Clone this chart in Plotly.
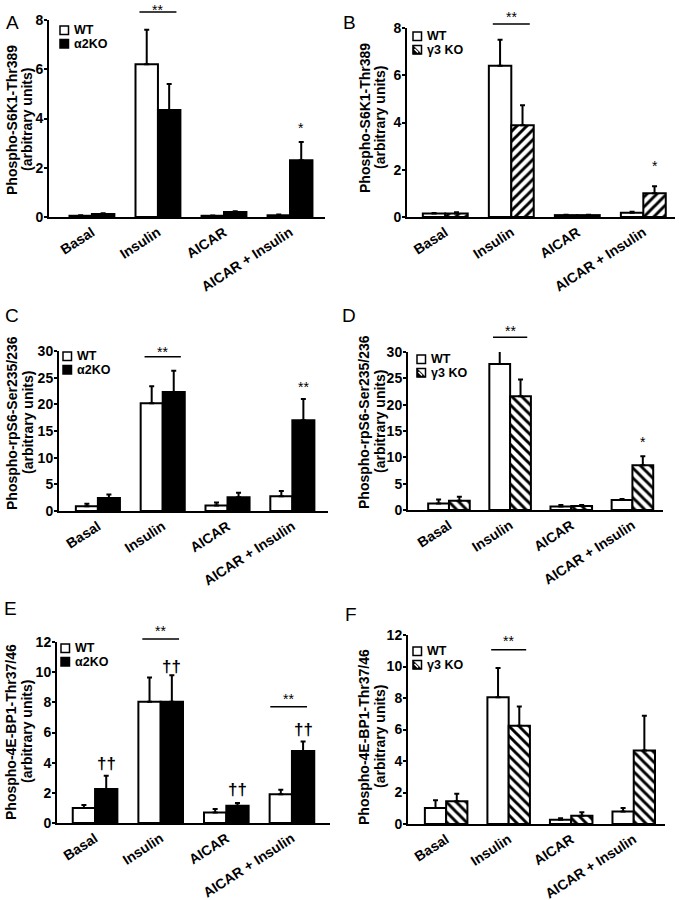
import plotly.graph_objects as go

W, H = 679, 900
FONT = "Liberation Sans, Arial, sans-serif"

categories = ["Basal", "Insulin", "AICAR", "AICAR + Insulin"]

# Panel A: Phospho-S6K1-Thr389, WT vs a2KO
a_wt = [0.05, 6.2, 0.05, 0.07]
a_wt_err = [0.02, 1.4, 0.01, 0.03]
a_ko = [0.12, 4.35, 0.2, 2.3]
a_ko_err = [0.03, 1.05, 0.03, 0.75]

# Panel B: Phospho-S6K1-Thr389, WT vs g3 KO
b_wt = [0.15, 6.4, 0.08, 0.18]
b_wt_err = [0.02, 1.1, 0.02, 0.04]
b_ko = [0.15, 3.88, 0.08, 1.0]
b_ko_err = [0.05, 0.85, 0.02, 0.3]

# Panel C: Phospho-rpS6-Ser235/236, WT vs a2KO
c_wt = [0.9, 20.2, 1.05, 2.75]
c_wt_err = [0.45, 3.2, 0.55, 1.0]
c_ko = [2.45, 22.3, 2.6, 17.0]
c_ko_err = [0.65, 4.0, 0.8, 4.0]

# Panel D: Phospho-rpS6-Ser235/236, WT vs g3 KO
d_wt = [1.25, 27.7, 0.65, 1.9]
d_wt_err = [0.75, 2.6, 0.3, 0.2]
d_ko = [1.75, 21.6, 0.75, 8.5]
d_ko_err = [0.75, 3.2, 0.2, 1.7]

# Panel E: Phospho-4E-BP1-Thr37/46, WT vs a2KO
e_wt = [1.0, 8.04, 0.7, 1.9]
e_wt_err = [0.2, 1.6, 0.22, 0.3]
e_ko = [2.25, 8.04, 1.15, 4.78]
e_ko_err = [0.88, 1.75, 0.17, 0.62]

# Panel F: Phospho-4E-BP1-Thr37/46, WT vs g3 KO
f_wt = [1.01, 8.05, 0.27, 0.8]
f_wt_err = [0.49, 1.85, 0.09, 0.21]
f_ko = [1.44, 6.24, 0.53, 4.67]
f_ko_err = [0.48, 1.22, 0.21, 2.2]

panels = [
    dict(key="A", wt=a_wt, wte=a_wt_err, ko=a_ko, koe=a_ko_err, ko_name="α2KO", hatch=None,
         title="Phospho-S6K1-Thr389", ymax=8, dtick=2,
         px=(49, 325), py=(20, 217), xr=(-0.65, 3.53),
         letter=(12, 22), tl=(12, 27, 120), leg=(60, 26)),
    dict(key="B", wt=b_wt, wte=b_wt_err, ko=b_ko, koe=b_ko_err, ko_name="γ3 KO", hatch="/",
         title="Phospho-S6K1-Thr389", ymax=8, dtick=2,
         px=(407, 675), py=(28, 217), xr=(-0.58, 3.48),
         letter=(350, 22), tl=(365, 380, 118), leg=(413, 32)),
    dict(key="C", wt=c_wt, wte=c_wt_err, ko=c_ko, koe=c_ko_err, ko_name="α2KO", hatch=None,
         title="Phospho-rpS6-Ser235/236", ymax=30, dtick=5,
         px=(59, 328), py=(351, 511), xr=(-0.60, 3.55),
         letter=(12, 315), tl=(12, 28, 423), leg=(63, 352)),
    dict(key="D", wt=d_wt, wte=d_wt_err, ko=d_ko, koe=d_ko_err, ko_name="γ3 KO", hatch="\\",
         title="Phospho-rpS6-Ser235/236", ymax=30, dtick=5,
         px=(408, 663), py=(352, 510), xr=(-0.67, 3.5),
         letter=(349, 315), tl=(364, 380, 422), leg=(417, 355)),
    dict(key="E", wt=e_wt, wte=e_wt_err, ko=e_ko, koe=e_ko_err, ko_name="α2KO", hatch=None,
         title="Phospho-4E-BP1-Thr37/46", ymax=12, dtick=2,
         px=(57, 330), py=(642, 823), xr=(-0.58, 3.58),
         letter=(10, 608), tl=(11, 27, 732), leg=(61, 644)),
    dict(key="F", wt=f_wt, wte=f_wt_err, ko=f_ko, koe=f_ko_err, ko_name="γ3 KO", hatch="\\",
         title="Phospho-4E-BP1-Thr37/46", ymax=12, dtick=2,
         px=(408, 665), py=(635, 824), xr=(-0.61, 3.5),
         letter=(351, 614), tl=(364, 380, 737), leg=(413, 647)),
]

# significance brackets: (x-center category index, line y, text y) in data units
sig_lines = {
    "A": [(1.0, 8.32, 8.42)],
    "B": [(1.0, 8.17, 8.45)],
    "C": [(1.0, 28.9, 29.9)],
    "D": [(1.0, 32.8, 34.0)],
    "E": [(1.0, 12.2, 12.7), (2.95, 7.7, 8.2)],
    "F": [(1.0, 11.06, 11.6)],
}
stars = {
    "A": [(3.17, 3.6, "*")],
    "B": [(3.17, 2.14, "*")],
    "C": [(3.17, 23.3, "**")],
    "D": [(3.17, 12.95, "*")],
    "E": [],
    "F": [],
}
daggers = {
    "E": [(0.17, 3.96), (1.17, 10.4), (2.17, 2.2), (3.17, 6.17)],
}

fig = go.Figure()
shapes = []
annotations = []


def px2x(v):
    return v / W


def px2y(v):
    return 1 - v / H


for i, p in enumerate(panels):
    n = i + 1
    xa = "x" if n == 1 else f"x{n}"
    ya = "y" if n == 1 else f"y{n}"
    xkey = "xaxis" if n == 1 else f"xaxis{n}"
    ykey = "yaxis" if n == 1 else f"yaxis{n}"

    fig.add_trace(go.Bar(
        x=categories, y=p["wt"], xaxis=xa, yaxis=ya, name="WT", showlegend=False,
        marker=dict(color="white", line=dict(color="black", width=2)),
        error_y=dict(type="data", array=p["wte"], arrayminus=[0] * 4, symmetric=False,
                     color="black", thickness=2, width=2.5),
    ))
    if p["hatch"]:
        mk = dict(color="white", line=dict(color="black", width=2),
                  pattern=dict(shape=p["hatch"], fgcolor="black", bgcolor="white",
                               size=7, solidity=0.42, fillmode="replace"))
    else:
        mk = dict(color="black", line=dict(color="black", width=2))
    fig.add_trace(go.Bar(
        x=categories, y=p["ko"], xaxis=xa, yaxis=ya, name=p["ko_name"], showlegend=False,
        marker=mk,
        error_y=dict(type="data", array=p["koe"], arrayminus=[0] * 4, symmetric=False,
                     color="black", thickness=2, width=2.5),
    ))

    fig.layout[xkey] = dict(
        domain=[px2x(p["px"][0]), px2x(p["px"][1])], anchor=ya,
        type="category", range=list(p["xr"]), automargin=False,
        showline=True, linecolor="black", linewidth=2, ticks="",
        showgrid=False, zeroline=False, tickangle=-33,
        tickfont=dict(family=FONT, size=14, color="black", weight="bold"),
    )
    fig.layout[ykey] = dict(
        domain=[px2y(p["py"][1]), px2y(p["py"][0])], anchor=xa, automargin=False,
        range=[0, p["ymax"]], dtick=p["dtick"], tick0=0,
        showline=True, linecolor="black", linewidth=2, ticks="outside",
        ticklen=3, tickwidth=2, tickcolor="black", ticklabelstandoff=-2,
        showgrid=False, zeroline=False,
        tickfont=dict(family=FONT, size=14, color="black", weight="bold"),
    )

    # panel letter
    lx, ly = p["letter"]
    annotations.append(dict(text=p["key"], x=px2x(lx), y=px2y(ly), xref="paper", yref="paper",
                            showarrow=False, xanchor="center", yanchor="middle",
                            font=dict(family=FONT, size=19, color="black")))
    # y-axis title (two lines)
    t1x, t2x, ty = p["tl"]
    annotations.append(dict(text=p["title"], x=px2x(t1x), y=px2y(ty), xref="paper", yref="paper",
                            showarrow=False, textangle=-90, xanchor="center", yanchor="middle",
                            font=dict(family=FONT, size=14, color="black", weight="bold")))
    annotations.append(dict(text="(arbitrary units)", x=px2x(t2x), y=px2y(ty), xref="paper", yref="paper",
                            showarrow=False, textangle=-90, xanchor="center", yanchor="middle",
                            font=dict(family=FONT, size=14, color="black", weight="bold")))

    # legend
    bx, by = p["leg"]
    bs = 8.5
    gap = 13.5
    shapes.append(dict(type="rect", xref="paper", yref="paper",
                       x0=px2x(bx), x1=px2x(bx + bs), y0=px2y(by + bs), y1=px2y(by),
                       line=dict(color="black", width=1.5), fillcolor="white"))
    annotations.append(dict(text="WT", x=px2x(bx + bs + 3), y=px2y(by + bs / 2), xref="paper", yref="paper",
                            showarrow=False, xanchor="left", yanchor="middle",
                            font=dict(family=FONT, size=12.5, color="black", weight="bold")))
    y2 = by + gap
    if p["hatch"]:
        shapes.append(dict(type="rect", xref="paper", yref="paper",
                           x0=px2x(bx), x1=px2x(bx + bs), y0=px2y(y2 + bs), y1=px2y(y2),
                           line=dict(color="black", width=1.5), fillcolor="white"))
        path = (f"M {px2x(bx)},{px2y(y2)} L {px2x(bx)},{px2y(y2 + bs)} "
                f"L {px2x(bx + bs)},{px2y(y2 + bs)} Z")
        shapes.append(dict(type="path", xref="paper", yref="paper", path=path,
                           fillcolor="black", line=dict(color="black", width=0.5)))
        shapes.append(dict(type="line", xref="paper", yref="paper",
                           x0=px2x(bx + 1.5), y0=px2y(y2 + 3.5), x1=px2x(bx + bs - 3.5), y1=px2y(y2 + bs - 1.5),
                           line=dict(color="white", width=1.5)))
    else:
        shapes.append(dict(type="rect", xref="paper", yref="paper",
                           x0=px2x(bx), x1=px2x(bx + bs), y0=px2y(y2 + bs), y1=px2y(y2),
                           line=dict(color="black", width=1.5), fillcolor="black"))
    annotations.append(dict(text=p["ko_name"], x=px2x(bx + bs + 3), y=px2y(y2 + bs / 2), xref="paper", yref="paper",
                            showarrow=False, xanchor="left", yanchor="middle",
                            font=dict(family=FONT, size=12.5, color="black", weight="bold")))

    # significance brackets with "**"
    xr0, xr1 = p["xr"]
    for (xc, yl, yt) in sig_lines.get(p["key"], []):
        x0d = (xc - 0.28 - xr0) / (xr1 - xr0)
        x1d = (xc + 0.28 - xr0) / (xr1 - xr0)
        yd = yl / p["ymax"]
        shapes.append(dict(type="line", xref=f"{xa} domain", yref=f"{ya} domain",
                           x0=x0d, x1=x1d, y0=yd, y1=yd, line=dict(color="black", width=1.5)))
        annotations.append(dict(text="**", x=(xc - xr0) / (xr1 - xr0), y=yt / p["ymax"],
                                xref=f"{xa} domain", yref=f"{ya} domain", showarrow=False,
                                xanchor="center", yanchor="middle",
                                font=dict(family=FONT, size=14, color="black")))
    for (xc, yv, txt) in stars.get(p["key"], []):
        annotations.append(dict(text=txt, x=(xc - xr0) / (xr1 - xr0), y=yv / p["ymax"],
                                xref=f"{xa} domain", yref=f"{ya} domain", showarrow=False,
                                xanchor="center", yanchor="middle",
                                font=dict(family=FONT, size=14, color="black")))
    for (xc, yv) in daggers.get(p["key"], []):
        annotations.append(dict(text="††", x=(xc - xr0) / (xr1 - xr0), y=yv / p["ymax"],
                                xref=f"{xa} domain", yref=f"{ya} domain", showarrow=False,
                                xanchor="center", yanchor="middle",
                                font=dict(family=FONT, size=17, color="black", weight="bold")))

fig.update_layout(
    width=W, height=H, autosize=False,
    margin=dict(l=0, r=0, t=0, b=0, pad=0, autoexpand=False),
    paper_bgcolor="white", plot_bgcolor="white",
    barmode="group", bargap=0.32, bargroupgap=0,
    showlegend=False,
    shapes=shapes, annotations=annotations,
    font=dict(family=FONT, color="black"),
)

fig.write_html("out.html", config={"displayModeBar": False},
               post_script="document.body.style.margin='0';document.body.style.padding='0';")
